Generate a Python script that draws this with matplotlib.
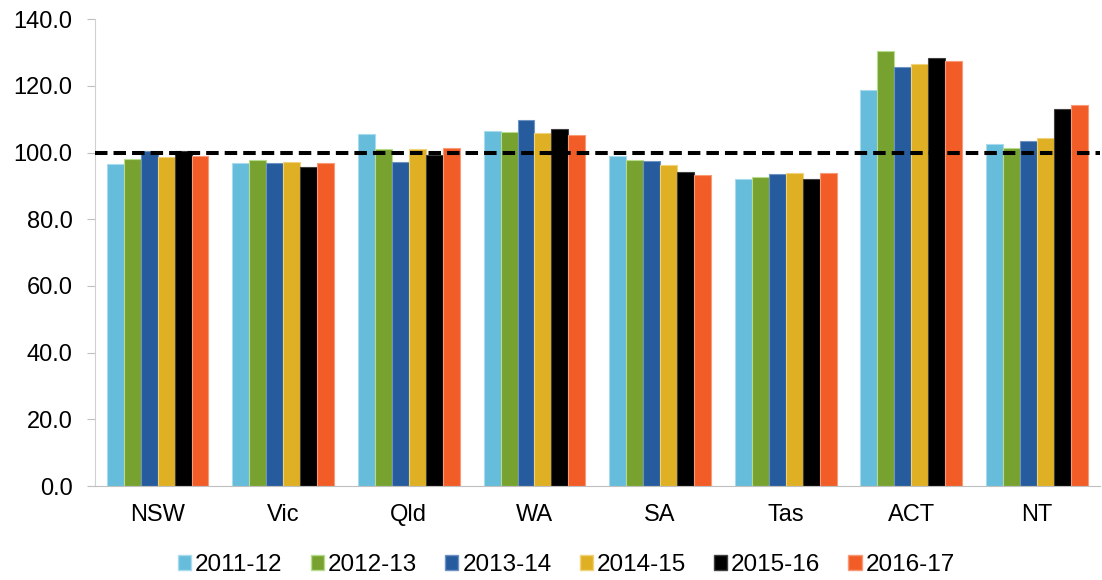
import numpy as np
import matplotlib.pyplot as plt
from matplotlib.patches import Patch

plt.rcParams['font.family'] = ['Liberation Sans', 'DejaVu Sans']

states = ["NSW", "Vic", "Qld", "WA", "SA", "Tas", "ACT", "NT"]
years = ["2011-12", "2012-13", "2013-14", "2014-15", "2015-16", "2016-17"]

v_2011 = [96.5, 97.0, 105.7, 106.6, 99.1, 92.0, 118.9, 102.6]
v_2012 = [98.2, 97.9, 101.2, 106.1, 97.9, 92.7, 130.5, 101.5]
v_2013 = [100.5, 96.9, 97.3, 109.9, 97.6, 93.7, 125.7, 103.5]
v_2014 = [98.7, 97.1, 101.0, 105.8, 96.2, 94.0, 126.4, 104.5]
v_2015 = [100.5, 95.6, 99.4, 107.2, 94.1, 92.2, 128.2, 113.2]
v_2016 = [99.0, 96.8, 101.5, 105.4, 93.4, 93.8, 127.4, 114.2]
series = [v_2011, v_2012, v_2013, v_2014, v_2015, v_2016]

colors = ["#65BCDB", "#77A22F", "#265C9E", "#E0B024", "#000000", "#F25C27"]
edges = ["#A9DBEE", "#B7DC8C", "#6E93C2", "#F0D27A", "#404040", "#F79A78"]

fig, ax = plt.subplots(figsize=(11.02, 5.8), dpi=100)
fig.subplots_adjust(left=0.086, right=0.998, top=0.967, bottom=0.162)

x = np.arange(len(states))
group = 0.81
w = group / len(series)
for i, vals in enumerate(series):
    ax.bar(x - group / 2 + w * (i + 0.5), vals, width=w, color=colors[i],
           edgecolor=edges[i], linewidth=0.8, zorder=2)

# reference line at 100
ax.axhline(100, color="black", lw=2.9, dashes=(3.1, 1.5), zorder=3)

ax.set_xlim(-0.5, len(states) - 0.5)
ax.set_ylim(0, 140)
ax.set_yticks(np.arange(0, 141, 20))
ax.set_yticklabels([f"{t:.1f}" for t in np.arange(0, 141, 20)])
ax.set_xticks(x)
ax.set_xticklabels(states)
ax.tick_params(axis="y", labelsize=17, color="#BFBFBF", length=6, pad=10)
ax.tick_params(axis="x", labelsize=17, length=0, pad=13)
for s in ["top", "right"]:
    ax.spines[s].set_visible(False)
ax.spines["left"].set_color("#D0D0D0")
ax.spines["bottom"].set_color("#BFBFBF")

handles = [Patch(facecolor=c, edgecolor=e, label=y) for c, e, y in zip(colors, edges, years)]
fig.legend(handles=handles, loc="center", bbox_to_anchor=(0.514, 0.026), ncol=6,
           frameon=False, fontsize=17.5, handlelength=0.54, handleheight=0.54,
           handletextpad=0.17, columnspacing=1.15, borderpad=0, borderaxespad=0)

plt.savefig("out.png", dpi=100)
